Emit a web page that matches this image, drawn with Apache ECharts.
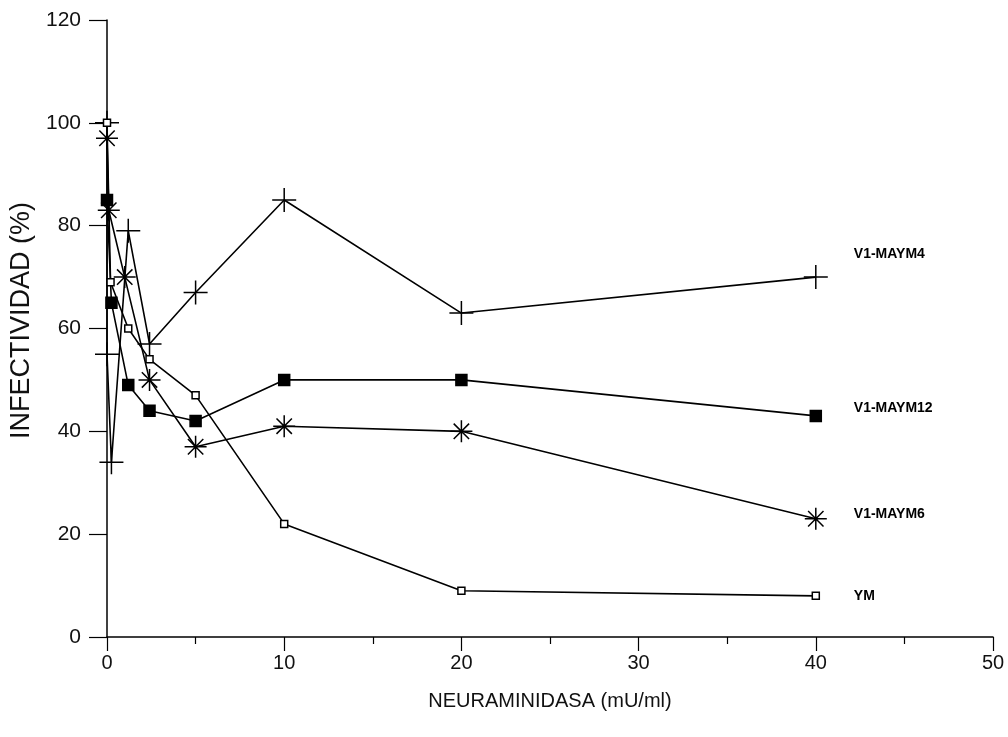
<!DOCTYPE html>
<html>
<head>
<meta charset="utf-8">
<script src="https://cdn.jsdelivr.net/npm/echarts@6/dist/echarts.min.js"></script>
<style>
  html, body { margin: 0; padding: 0; background: #fff; }
</style>
</head>
<body>
<!-- contenedor del grafico -->
<div id="main" style="width: 1008px;height: 737px;"></div>
<script>
// datos: dosis de neuraminidasa (mU/ml) e infectividad (%)
const ymX = [0, 0.2, 1.2, 2.4, 5, 10, 20, 40];
const ymY = [100, 69, 60, 54, 47, 22, 9, 8];

const maym12X = [0, 0.25, 1.2, 2.4, 5, 10, 20, 40];
const maym12Y = [85, 65, 49, 44, 42, 50, 50, 43];

const maym6X = [0, 0.1, 1, 2.4, 5, 10, 20, 40];
const maym6Y = [97, 83, 70, 50, 37, 41, 40, 23];

const maym4X = [0, 0, 0.25, 1.2, 2.4, 5, 10, 20, 40];
const maym4Y = [100, 55, 34, 79, 57, 67, 85, 63, 70];

const seriesNames = ["V1-MAYM4", "V1-MAYM12", "V1-MAYM6", "YM"];

function pares(xs, ys) {
  let out = [];
  for (let i = 0; i < xs.length; i++) {
    out.push([xs[i], ys[i]]);
  }
  return out;
}

const cruz = "path://M0,-1L0,1M-1,0L1,0";
const asterisco = "path://M0,-1L0,1M-1,0L1,0M-0.7,-0.7L0.7,0.7M-0.7,0.7L0.7,-0.7";

function serie(name, data, symbol, size, fill, offsetY) {
  return {
    name: name,
    type: "line",
    data: data,
    symbol: symbol,
    symbolSize: size,
    showAllSymbol: true,
    silent: true,
    animation: false,
    lineStyle: { color: "#000", width: 1.6 },
    itemStyle: { color: fill, borderColor: "#000", borderWidth: 1.5 },
    endLabel: {
      show: true,
      formatter: name,
      distance: 38,
      offset: [0, offsetY],
      color: "#000",
      fontFamily: "Liberation Sans, Arial",
      fontWeight: "bold",
      fontSize: 14
    }
  };
}

const chart = echarts.init(document.getElementById("main"));
chart.setOption({
  animation: false,
  grid: { left: 107, right: 15, top: 20, bottom: 100 },
  xAxis: {
    type: "value",
    min: 0,
    max: 50,
    interval: 10,
    name: "NEURAMINIDASA (mU/ml)",
    nameLocation: "middle",
    nameGap: 54,
    nameTextStyle: { fontSize: 20, color: "#111", fontFamily: "Liberation Sans, Arial" },
    axisLine: { lineStyle: { color: "#000", width: 1.5 } },
    axisTick: { inside: false, length: 14, lineStyle: { color: "#000", width: 1.2 } },
    minorTick: { show: true, splitNumber: 2, length: 7, lineStyle: { color: "#000", width: 1.2 } },
    axisLabel: { fontSize: 20, color: "#111", margin: 16, fontFamily: "Liberation Sans, Arial" },
    splitLine: { show: false }
  },
  yAxis: {
    type: "value",
    min: 0,
    max: 120,
    interval: 20,
    name: "INFECTIVIDAD (%)",
    nameLocation: "middle",
    nameGap: 65,
    nameRotate: 90,
    nameTextStyle: {
      fontSize: 27,
      color: "#111",
      fontFamily: "Liberation Sans, Arial",
      padding: [0, 0, 0, 16]
    },
    axisLine: { show: true, lineStyle: { color: "#000", width: 1.5 } },
    axisTick: { show: true, inside: false, length: 18, lineStyle: { color: "#000", width: 1.2 } },
    axisLabel: { fontSize: 21, color: "#111", margin: 26, fontFamily: "Liberation Sans, Arial" },
    splitLine: { show: false }
  },
  series: [
    serie(seriesNames[0], pares(maym4X, maym4Y), cruz, 24, "#000", -23),
    serie(seriesNames[1], pares(maym12X, maym12Y), "rect", 11, "#000", -8),
    serie(seriesNames[2], pares(maym6X, maym6Y), asterisco, 22, "#000", -5),
    serie(seriesNames[3], pares(ymX, ymY), "rect", 7, "#fff", 0)
  ]
});
</script>
</body>
</html>
